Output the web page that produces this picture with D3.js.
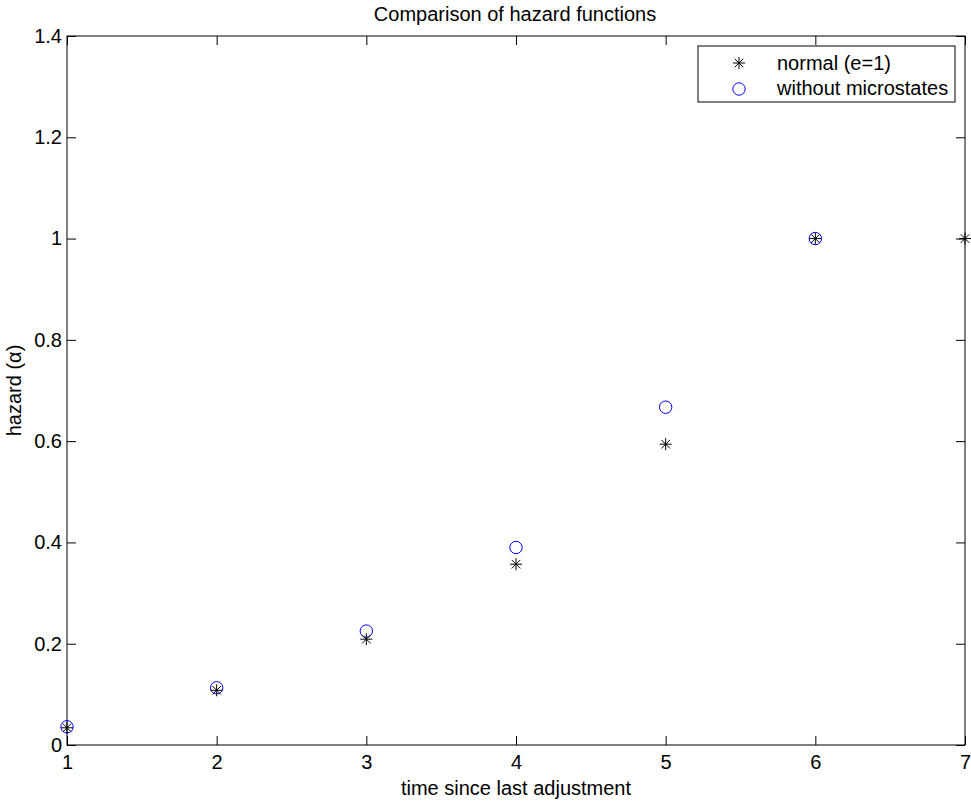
<!DOCTYPE html>
<html><head><meta charset="utf-8">
<script src="https://cdn.jsdelivr.net/npm/d3@7"></script>
<style>body{margin:0;background:#fff}svg{display:block}text{font-family:"Liberation Sans",Arial,Helvetica,sans-serif;fill:#000}</style>
</head><body>
<svg id="c" width="971" height="804"></svg>
<script>
const timeSteps = [1, 2, 3, 4, 5, 6, 7];
const normalHazard = [0.034, 0.108, 0.209, 0.357, 0.594, 1.0, 1.0];
const withoutMicro = [0.036, 0.113, 0.225, 0.390, 0.667, 1.0];
const xTicks = [1, 2, 3, 4, 5, 6, 7];
const yTicks = [0, 0.2, 0.4, 0.6, 0.8, 1, 1.2, 1.4];
const seriesNames = ["normal (e=1)", "without microstates"];

const svg = d3.select("#c");
const L = 67, R = 965, T = 36, B = 745;
const x = d3.scaleLinear().domain([1, 7]).range([L, R]);
const y = d3.scaleLinear().domain([0, 1.4]).range([B, T]);
const fs = 20;

// frame
svg.append("rect").attr("x", L).attr("y", T).attr("width", R - L).attr("height", B - T)
  .attr("fill", "none").attr("stroke", "#000").attr("stroke-width", 1);

function styleAxis(g) {
  g.select(".domain").remove();
  g.selectAll("line").attr("stroke", "#000");
  g.selectAll("text").attr("font-size", fs).attr("font-family", '"Liberation Sans",Arial,sans-serif');
}
const fmt = d => d3.format("~g")(d);
svg.append("g").attr("transform", `translate(0,${B})`)
  .call(d3.axisBottom(x).tickValues(xTicks).tickFormat(fmt).tickSizeInner(-9).tickSizeOuter(0).tickPadding(10))
  .call(styleAxis);
svg.append("g").attr("transform", `translate(0,${T})`)
  .call(d3.axisTop(x).tickValues(xTicks).tickFormat("").tickSizeInner(-9).tickSizeOuter(0))
  .call(styleAxis);
svg.append("g").attr("transform", `translate(${L},0)`)
  .call(d3.axisLeft(y).tickValues(yTicks).tickFormat(fmt).tickSizeInner(-9).tickSizeOuter(0).tickPadding(5))
  .call(styleAxis);
svg.append("g").attr("transform", `translate(${R},0)`)
  .call(d3.axisRight(y).tickValues(yTicks).tickFormat("").tickSizeInner(-9).tickSizeOuter(0))
  .call(styleAxis);

// star marker path
function starPath(s) {
  const a = s, d = s * 0.7071;
  return `M${-a},0L${a},0M0,${-a}L0,${a}M${-d},${-d}L${d},${d}M${-d},${d}L${d},${-d}`;
}
const starD = starPath(6);

// circles
svg.append("g").selectAll("circle").data(withoutMicro).join("circle")
  .attr("cx", (d, i) => x(timeSteps[i])).attr("cy", d => y(d)).attr("r", 6.2)
  .attr("fill", "none").attr("stroke", "#0000ff").attr("stroke-width", 1);
// stars
svg.append("g").selectAll("path").data(normalHazard).join("path")
  .attr("transform", (d, i) => `translate(${x(timeSteps[i])},${y(d)})`)
  .attr("d", starD).attr("stroke", "#000").attr("stroke-width", 1).attr("fill", "none");

// title and labels
svg.append("text").attr("x", (L + R) / 2 - 1).attr("y", 21).attr("text-anchor", "middle")
  .attr("font-size", fs).text("Comparison of hazard functions");
svg.append("text").attr("x", (L + R) / 2).attr("y", 795).attr("text-anchor", "middle")
  .attr("font-size", fs).text("time since last adjustment");
svg.append("text").attr("transform", `translate(21,${(T + B) / 2}) rotate(-90)`).attr("text-anchor", "middle")
  .attr("font-size", fs).text("hazard (α)");

// legend
const lg = svg.append("g");
lg.append("rect").attr("x", 698).attr("y", 46).attr("width", 257).attr("height", 56)
  .attr("fill", "#fff").attr("stroke", "#000").attr("stroke-width", 1);
lg.append("path").attr("transform", "translate(739,63)").attr("d", starD)
  .attr("stroke", "#000").attr("fill", "none");
lg.append("circle").attr("cx", 739).attr("cy", 89).attr("r", 6.2)
  .attr("fill", "none").attr("stroke", "#0000ff");
lg.selectAll("text.l").data(seriesNames).join("text").attr("class", "l")
  .attr("x", 777).attr("y", (d, i) => 69.5 + i * 25)
  .attr("font-size", fs).text(d => d);
</script>
</body></html>
